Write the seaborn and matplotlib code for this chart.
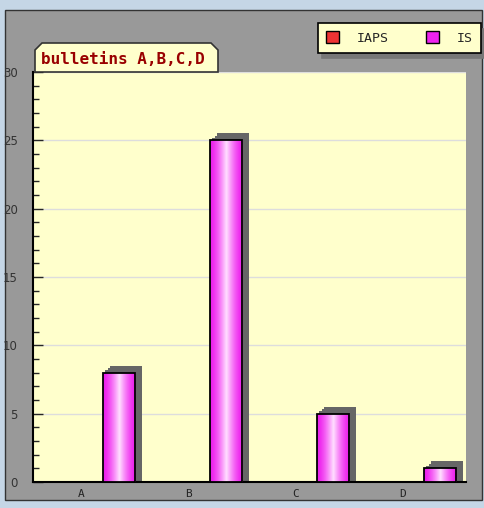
### bulletins A,B,C,D - IAPS vs IS ###
import matplotlib
matplotlib.use("Agg")
import matplotlib.pyplot as plt
import matplotlib.patches as mpatches
import matplotlib.patheffects as pe
from matplotlib.ticker import MultipleLocator
import seaborn as sns
import numpy as np
import pandas as pd

# data
categories = ["A", "B", "C", "D"]
series_names = ["IAPS", "IS"]
iaps_values = [0, 0, 0, 0]
is_values = [8, 25, 5, 1]
title_text = "bulletins A,B,C,D"

colors = {"IAPS": "#ee3333", "IS": "#ee22ee"}

W, H = 485, 508


def px(x, y):
    # pixel (from top-left) -> figure fraction
    return x / W, 1 - y / H


df = pd.DataFrame({
    "bulletin": categories * 2,
    "series": ["IAPS"] * len(categories) + ["IS"] * len(categories),
    "value": iaps_values + is_values,
})

sns.set_style("white")
fig = plt.figure(figsize=(W / 100, H / 100), dpi=100)
fig.patch.set_facecolor("#c5d6e6")

# gray panel behind the chart
x0, y1 = px(5, 10)
x1, y0 = px(482, 500)
fig.add_artist(mpatches.Rectangle((x0, y0), x1 - x0, y1 - y0, transform=fig.transFigure,
                                  facecolor="#999999", edgecolor="#333333", lw=1, zorder=0))

l, t = px(33, 72)
r, b = px(466, 482)
ax = fig.add_axes([l, b, r - l, t - b])
ax.set_facecolor("#ffffcc")

sns.barplot(data=df, x="bulletin", y="value", hue="series", order=categories,
            hue_order=series_names, palette=colors, width=1.0, gap=0.4,
            edgecolor="black", linewidth=0, legend=False, ax=ax, zorder=2)

# gradient + 3d shadow on the bars
grad = np.abs(np.linspace(-1, 1, 64))
grad_img = np.dstack([
    0.92 + 0.08 * (1 - grad),
    0.12 + 0.76 * (1 - grad) ** 1.5,
    0.92 + 0.08 * (1 - grad),
])
shadow = "#666666"
for p in list(ax.patches):
    h = p.get_height()
    if h <= 0:
        p.set_visible(False)
        continue
    p.set_path_effects([
        pe.SimplePatchShadow(offset=(5, 0), shadow_rgbFace=shadow, alpha=1),
        pe.SimplePatchShadow(offset=(1.7, 1.7), shadow_rgbFace=shadow, alpha=1),
        pe.SimplePatchShadow(offset=(3.4, 3.4), shadow_rgbFace=shadow, alpha=1),
        pe.SimplePatchShadow(offset=(5, 5), shadow_rgbFace=shadow, alpha=1),
        pe.Normal(),
    ])
    xx, yy, ww = p.get_x(), p.get_y(), p.get_width()
    im = ax.imshow(grad_img, extent=(xx, xx + ww, yy, yy + h), aspect="auto",
                   zorder=3, interpolation="bilinear")
    im.set_clip_path(p)
    ax.add_patch(mpatches.Rectangle((xx, yy), ww, h, fill=False, ec="black", lw=1.3, zorder=4))

ax.set_xlim(-0.554, 3.492)
ax.set_ylim(0, 30)
ax.set_xticks(np.arange(len(categories)) - 0.1)
ax.set_xticklabels(categories, family="DejaVu Sans Mono", fontsize=8, color="#222222")
ax.yaxis.set_major_locator(MultipleLocator(5))
ax.yaxis.set_minor_locator(MultipleLocator(1))
ax.tick_params(axis="y", which="major", direction="in", length=7, width=1, pad=11,
               labelsize=8.5, labelcolor="#333333", left=True)
ax.tick_params(axis="y", which="minor", direction="in", length=4, width=1, left=True)
ax.tick_params(axis="x", length=0, pad=5)
ax.yaxis.grid(True, which="major", color="#dddddd", lw=1, zorder=0)
ax.set_axisbelow(True)
ax.set_xlabel("")
ax.set_ylabel("")
for s in ["top", "right"]:
    ax.spines[s].set_visible(False)
for s in ["left", "bottom"]:
    ax.spines[s].set_color("black")
    ax.spines[s].set_linewidth(1.5)

# title tab
tab = [(35, 72), (35, 50), (42, 43), (211, 43), (218, 50), (218, 72)]
fig.add_artist(mpatches.Polygon([px(*q) for q in tab], closed=True, transform=fig.transFigure,
                                facecolor="#ffffcc", edgecolor="#333333", lw=1.2, zorder=5))
fig.text(*px(41, 59), title_text, family="DejaVu Sans Mono", weight="bold", fontsize=11.5,
         color="#990000", va="center", ha="left", zorder=6)

# legend
handles = [mpatches.Patch(facecolor=colors[n], edgecolor="black", lw=1, label=n) for n in series_names]
leg = fig.legend(handles=handles, loc="upper right", bbox_to_anchor=px(481, 23), ncol=2,
                 frameon=True, fancybox=False, handlelength=1.0, handleheight=1.0,
                 handletextpad=1.35, columnspacing=2.8, borderpad=0.62, borderaxespad=0,
                 prop={"family": "DejaVu Sans Mono", "size": 9.5},
                 shadow={"color": "#777777", "alpha": 1, "ox": 3, "oy": -4})
leg.get_frame().set_facecolor("#ffffcc")
leg.get_frame().set_edgecolor("black")
leg.get_frame().set_alpha(1)
leg.get_frame().set_linewidth(1.2)
leg.set_zorder(6)

fig.savefig("out.png", dpi=100, facecolor=fig.get_facecolor())
